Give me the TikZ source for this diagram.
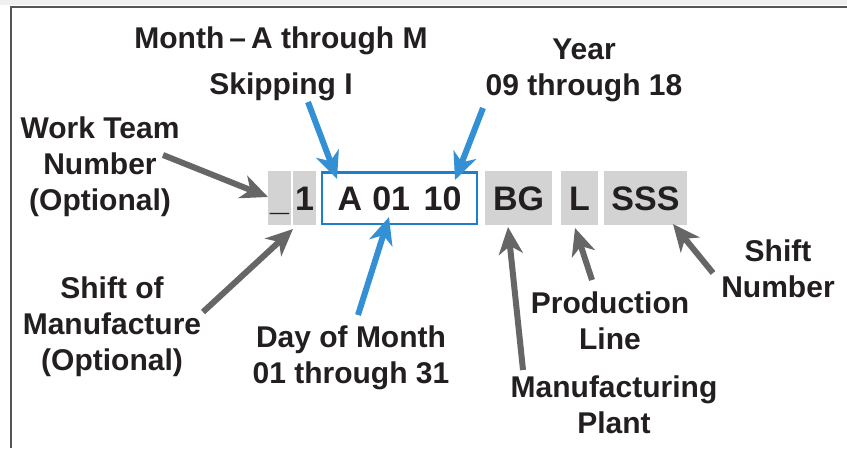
\documentclass[tikz,border=0pt]{standalone}
\usepackage{fontspec}
\setmainfont{Liberation Sans}
\usetikzlibrary{arrows.meta}
\definecolor{boxgray}{HTML}{D3D3D3}
\definecolor{arrgray}{HTML}{666666}
\definecolor{arrblue}{HTML}{3390D4}
\definecolor{boxblue}{HTML}{1F7EC8}
\definecolor{txt}{HTML}{231F20}
\definecolor{framegray}{HTML}{555555}
\begin{document}
\begin{tikzpicture}[x=1pt,y=-1pt,
  lbl/.style={font=\fontsize{30}{36}\selectfont\bfseries, text=txt, align=center, inner sep=0pt},
  code/.style={fill=boxgray, minimum height=54pt, inner sep=0pt, text height=24pt, text depth=0pt,
    font=\fontsize{34}{40}\selectfont\bfseries, text=txt},
  garrow/.style={draw=arrgray, line width=6pt, -{Stealth[length=27pt,width=24pt,inset=8pt]}},
  barrow/.style={draw=arrblue, line width=6pt, -{Stealth[length=27pt,width=24pt,inset=8pt]}}]
\useasboundingbox (0,0) rectangle (847,448);
\fill[white] (0,0) rectangle (847,448);
\fill[black!6] (0,0) rectangle (847,5);
\draw[framegray, line width=1.6pt] (11,448) -- (11,7) -- (847,7);

% code boxes
\node[code, minimum width=23pt] (u) at (279.5,198) {\_};
\node[code, minimum width=23pt] (one) at (304.5,198) {1};
\node[code, fill=white, draw=boxblue, line width=2pt, minimum width=155pt, minimum height=52pt] (date) at (399.5,198) {A\hspace{0.3em}01\hspace{0.4em}10};
\draw[boxblue, line width=1pt] (322,173.5) -- (477,173.5);
\node[code, minimum width=67pt] (bg) at (518.5,198) {BG};
\node[code, minimum width=37pt] (l) at (579.5,198) {L};
\node[code, minimum width=83pt] (sss) at (645.5,198) {SSS};

% labels
\node[lbl] (month) at (281,64) {Month\,–\,A through M\\[10pt]Skipping I};
\node[lbl] (year) at (584,70) {Year\\09 through 18};
\node[lbl] (team) at (100,167) {Work Team\\Number\\(Optional)};
\node[lbl] (shiftm) at (112,327) {Shift of\\Manufacture\\(Optional)};
\node[lbl] (day) at (351,358) {Day of Month\\01 through 31};
\node[lbl] (prod) at (610,321) {Production\\Line};
\node[lbl] (plant) at (614,405) {Manufacturing\\Plant};
\node[lbl] (shiftn) at (778,269) {Shift\\Number};

% arrow anchors
\coordinate (teamT) at (163,155);
\coordinate (shiftmT) at (203,312);
\coordinate (monthT) at (308,102);
\coordinate (yearT) at (483,108);
\coordinate (dayT) at (358,315);
\coordinate (plantT) at (523,370);
\coordinate (prodT) at (592,280);
\coordinate (shiftnT) at (713,273);

\draw[garrow] (teamT) -- (268,197);
\draw[garrow] (shiftmT) -- (293,229);
\draw[barrow] (monthT) -- (337,179);
\draw[barrow] (yearT) -- (455,180);
\draw[barrow] (dayT) -- (389,217);
\draw[garrow] (plantT) -- (508,227);
\draw[garrow] (prodT) -- (575,228);
\draw[garrow] (shiftnT) -- (673,224);
\end{tikzpicture}
\end{document}
